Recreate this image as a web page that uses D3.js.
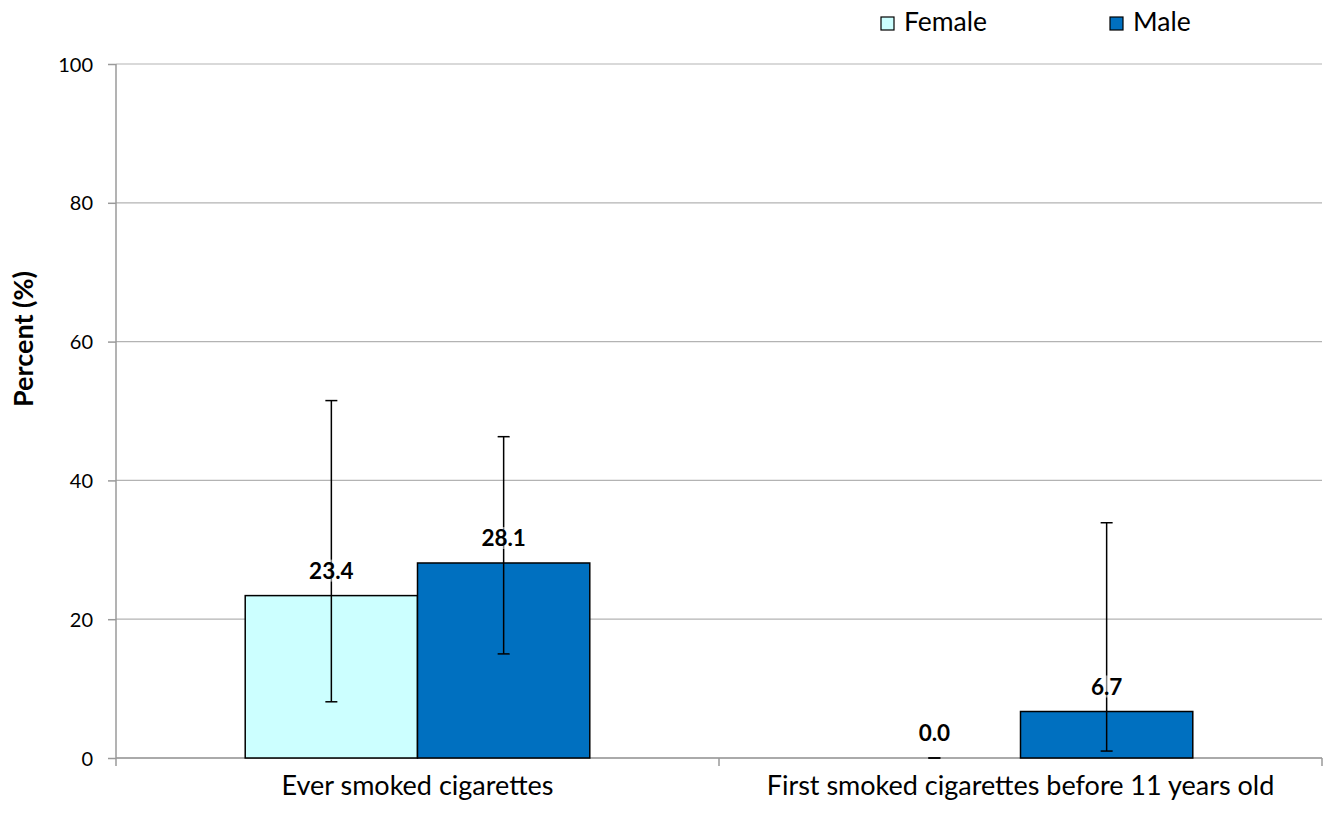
<!DOCTYPE html>
<html><head><meta charset="utf-8">
<script src="https://cdn.jsdelivr.net/npm/d3@7"></script>
<style>body{margin:0;background:#fff}svg{display:block}</style>
</head><body><svg id="c" width="1323" height="813"></svg>
<script>
const categories = ["Ever smoked cigarettes", "First smoked cigarettes before 11 years old"];
const seriesNames = ["Female", "Male"];
const femaleValues = [23.4, 0.0];
const maleValues = [28.1, 6.7];
const femaleLow = [8.1, 0.0];
const femaleHigh = [51.5, 0.0];
const maleLow = [15.0, 1.0];
const maleHigh = [46.3, 33.9];
const yTicks = [0, 20, 40, 60, 80, 100];
const colors = ["#CCFFFF", "#0070C0"];

const font = "Lato, 'Open Sans', sans-serif";
const svg = d3.select("#c");
const m = {l:116, r:1322, t:64, b:758};
const x0 = d3.scaleBand().domain(categories).range([m.l, m.r]).paddingInner(0).paddingOuter(0);
const x1 = d3.scaleBand().domain(seriesNames).range([0, x0.bandwidth()]).paddingOuter(0.75).paddingInner(0);
const y = d3.scaleLinear().domain([0, 100]).range([m.b, m.t]);

// gridlines
svg.append("g").selectAll("line").data(yTicks).join("line")
  .attr("x1", m.l).attr("x2", m.r).attr("y1", d=>y(d)).attr("y2", d=>y(d))
  .attr("stroke", "#b3b3b3").attr("stroke-width", 1.2);

// y axis
const ya = svg.append("g").attr("transform", `translate(${m.l},0)`)
  .call(d3.axisLeft(y).tickValues(yTicks).tickSize(8).tickPadding(15));
ya.select(".domain").attr("stroke", "#9a9a9a").attr("stroke-width", 1.5).attr("d", `M0,${m.t}V${m.b}`);
ya.selectAll(".tick line").attr("stroke", "#9a9a9a").attr("stroke-width", 1.5);
ya.selectAll(".tick text").attr("font-family", font).attr("font-size", 20).attr("fill", "#000").attr("dy", "0.35em");

// x axis
const xa = svg.append("g").attr("transform", `translate(0,${m.b})`);
xa.append("line").attr("x1", m.l).attr("x2", m.r).attr("stroke", "#9a9a9a").attr("stroke-width", 1.5);
const bounds = [m.l].concat(categories.map(c => x0(c) + x0.bandwidth()));
xa.selectAll(".bt").data(bounds).join("line").attr("x1", d=>d).attr("x2", d=>d).attr("y1", 0).attr("y2", 8)
  .attr("stroke", "#9a9a9a").attr("stroke-width", 1.5);
xa.selectAll("text").data(categories).join("text")
  .attr("x", d => x0(d) + x0.bandwidth()/2).attr("y", 37)
  .attr("text-anchor", "middle").attr("font-family", font).attr("font-size", 27).attr("fill", "#000").text(d=>d);

// y title
svg.append("text").attr("transform", `translate(33,339) rotate(-90)`)
  .attr("text-anchor", "middle").attr("font-family", font).attr("font-weight", "bold").attr("font-size", 27)
  .text("Percent (%)");

// data rows
const rows = [];
categories.forEach((c, i) => {
  rows.push({c, s: "Female", v: femaleValues[i], lo: femaleLow[i], hi: femaleHigh[i]});
  rows.push({c, s: "Male", v: maleValues[i], lo: maleLow[i], hi: maleHigh[i]});
});
const cx = d => x0(d.c) + x1(d.s) + x1.bandwidth()/2;

svg.append("g").selectAll("rect").data(rows).join("rect")
  .attr("x", d => x0(d.c) + x1(d.s)).attr("width", x1.bandwidth())
  .attr("y", d => y(d.v)).attr("height", d => y(0) - y(d.v))
  .attr("fill", d => colors[seriesNames.indexOf(d.s)])
  .attr("stroke", "#000").attr("stroke-width", d => d.v > 0 ? 1.5 : 0);

// error bars
const eb = svg.append("g");
rows.forEach(d => {
  eb.append("line").attr("x1", cx(d)).attr("x2", cx(d)).attr("y1", y(d.lo)).attr("y2", y(d.hi)).attr("stroke", "#000").attr("stroke-width", 1.5);
  [d.lo, d.hi].forEach(v => eb.append("line").attr("x1", cx(d)-6).attr("x2", cx(d)+6).attr("y1", y(v)).attr("y2", y(v)).attr("stroke", "#000").attr("stroke-width", 1.5));
});

// value labels
const lg = svg.append("g");
rows.forEach(d => {
  const t = lg.append("text").attr("x", cx(d)).attr("y", y(d.v) - 17)
    .attr("text-anchor", "middle").attr("font-family", font).attr("font-weight", "bold").attr("font-size", 22.5)
    .attr("fill", "#000").text(d.v.toFixed(1));
  const bb = t.node().getBBox();
  lg.insert("rect", "text").attr("x", bb.x).attr("y", bb.y + 3).attr("width", bb.width).attr("height", bb.height - 5)
    .attr("fill", "#fff").attr("opacity", 0.5);
});

// legend
const legX = [881, 1110];
const leg = svg.append("g");
seriesNames.forEach((s, i) => {
  leg.append("rect").attr("x", legX[i]).attr("y", 17).attr("width", 13).attr("height", 13)
    .attr("fill", colors[i]).attr("stroke", "#000").attr("stroke-width", 1.2);
  leg.append("text").attr("x", legX[i] + 23).attr("y", 31).attr("font-family", font).attr("font-size", 26.5)
    .attr("fill", "#000").text(s);
});
</script></body></html>
